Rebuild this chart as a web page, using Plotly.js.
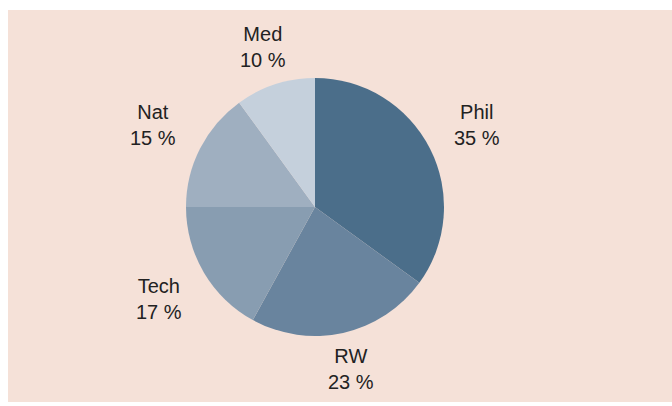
<!DOCTYPE html>
<html>
<head>
<meta charset="utf-8">
<script src="https://cdn.plot.ly/plotly-3.0.1.min.js"></script>
<style>
  html, body { margin: 0; padding: 0; background: #ffffff; }
  #chart { position: absolute; left: 8px; top: 10px; width: 664px; height: 392px; }
</style>
</head>
<body>
<div id="chart"></div>
<script>
const categories = ["Phil", "RW", "Tech", "Nat", "Med"];
const shares = [35, 23, 17, 15, 10];
const sliceColors = ["#4b6e8a", "#69849e", "#889db1", "#9fafc0", "#c5d0dc"];

const W = 664, H = 392;
const M = { l: 100, r: 150, t: 68, b: 66 };
const plotW = W - M.l - M.r, plotH = H - M.t - M.b;
const radius = Math.min(plotW, plotH) / 2;
const cx = M.l + plotW / 2, cy = M.t + plotH / 2;

const fontFamily = "Liberation Sans, Arial, sans-serif";
const fontSize = 20;

// label placement: along the mid angle of each slice, just outside the pie
const total = shares.reduce((a, b) => a + b, 0);
const gap = 32;
const halfW = 23;
let cum = 0;
const annotations = categories.map((name, i) => {
  const mid = (cum + shares[i] / 2) / total * 2 * Math.PI;
  cum += shares[i];
  const ux = Math.sin(mid), uy = -Math.cos(mid);
  const d = radius + gap + Math.abs(ux) * halfW;
  const px = cx + ux * d, py = cy + uy * d;
  return {
    xref: "paper", yref: "paper",
    x: (px - M.l) / plotW,
    y: 1 - (py - M.t) / plotH,
    xanchor: "center", yanchor: "middle",
    showarrow: false,
    align: "center",
    text: name + "<br>" + shares[i] + " %",
    font: { family: fontFamily, size: fontSize, color: "#222222" }
  };
});

const trace = {
  type: "pie",
  labels: categories,
  values: shares,
  sort: false,
  direction: "clockwise",
  rotation: 0,
  marker: { colors: sliceColors, line: { width: 0 } },
  textinfo: "none",
  hoverinfo: "none"
};

const layout = {
  width: W,
  height: H,
  paper_bgcolor: "#f5e1d8",
  plot_bgcolor: "#f5e1d8",
  showlegend: false,
  margin: M,
  font: { family: fontFamily, size: fontSize, color: "#222222" },
  annotations: annotations
};

Plotly.newPlot("chart", [trace], layout, { displayModeBar: false, staticPlot: true });
</script>
</body>
</html>
